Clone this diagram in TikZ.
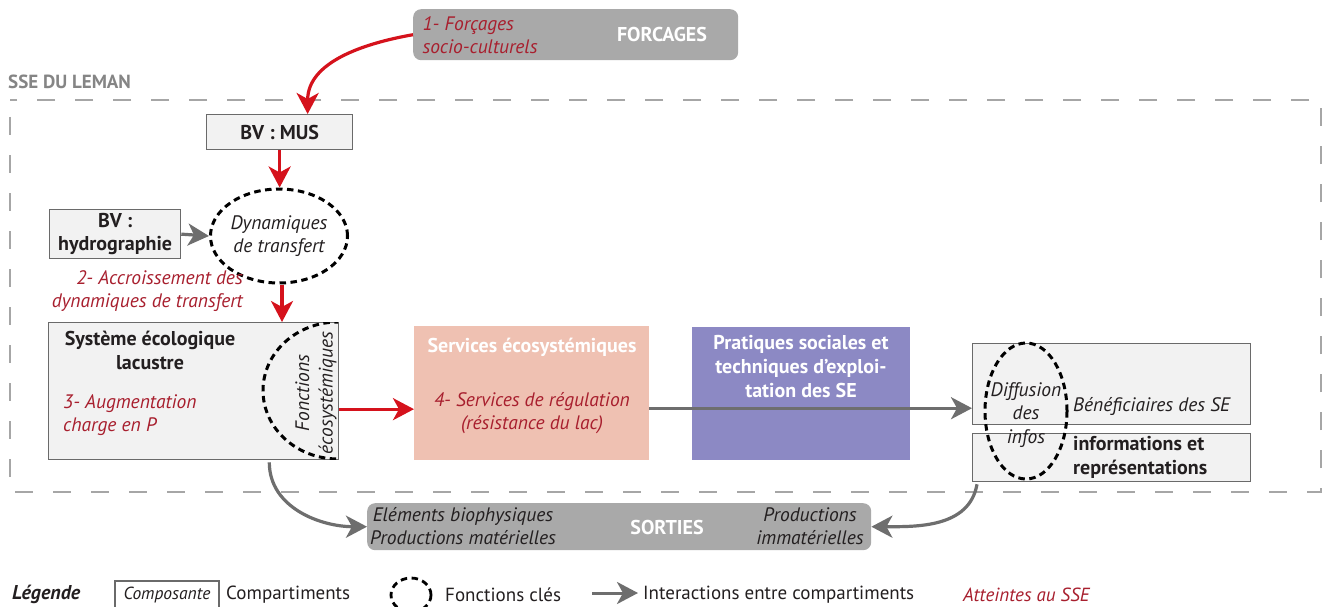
\documentclass[tikz,border=0pt]{standalone}
\usepackage{fontspec}
\setmainfont{PT Sans}
\usetikzlibrary{arrows.meta,shapes.geometric,calc}
\definecolor{redA}{HTML}{D5121C}
\definecolor{redT}{HTML}{A81F2E}
\definecolor{grayA}{HTML}{6E6E6E}
\definecolor{grayF}{HTML}{A6A6A6}
\definecolor{boxF}{HTML}{F2F2F2}
\definecolor{boxD}{HTML}{6A6A6A}
\definecolor{topF}{HTML}{A9A9A9}
\definecolor{servF}{HTML}{EFC1B2}
\definecolor{pratF}{HTML}{8C89C4}
\definecolor{txt}{HTML}{231F20}
\tikzset{
  box/.style={draw=boxD, fill=boxF, line width=1.3pt, inner sep=0pt, anchor=north west, align=center, text=txt, font=\fontsize{20}{23}\selectfont\bfseries},
  fbox/.style={fill=topF, rounded corners=8pt, inner sep=0pt, anchor=north west},
  colbox/.style={inner sep=0pt, anchor=north west},
  keyfn/.style={ellipse, draw=black, line width=3pt, dash pattern=on 6.5pt off 4.5pt, inner sep=0pt},
  redarr/.style={draw=redA, line width=3.2pt, -{Stealth[length=21pt,width=22pt,inset=6pt]}},
  grayarr/.style={draw=grayA, line width=3.2pt, -{Stealth[length=21pt,width=22pt,inset=6pt]}},
  redtxt/.style={text=redT, font=\fontsize{19.5}{23.5}\selectfont\itshape, inner sep=0pt},
  ittxt/.style={text=txt, font=\fontsize{19.5}{23.5}\selectfont\itshape, inner sep=0pt},
  bdtxt/.style={text=txt, font=\fontsize{20}{24}\selectfont\bfseries, inner sep=0pt},
  whtxt/.style={text=white, font=\fontsize{20}{24}\selectfont\bfseries, inner sep=0pt},
  legtxt/.style={text=txt, font=\fontsize{19}{22}\selectfont, inner sep=0pt, anchor=west},
}
\begin{document}
\begin{tikzpicture}[x=1pt,y=-1pt]
\useasboundingbox[fill=white] (0,0) rectangle (1324,607);

% frame
\draw[grayF, line width=1.6pt, dash pattern=on 18pt off 20pt, dash phase=-17pt] (10,100) rectangle (1321,492);
\node[anchor=west, inner sep=0pt, text=grayF!80!black, font=\fontsize{19}{22}\selectfont\bfseries] (sse) at (8,82) {SSE DU LEMAN};

% top box
\node[fbox, minimum width=325pt, minimum height=51pt] (forc) at (413,9) {};
\node[redtxt, align=left] (forcT) at (480,35) {1- Forçages\\socio-culturels};
\node[whtxt] (forcN) at (662,35) {FORCAGES};

% BV MUS
\node[box, minimum width=146pt, minimum height=35pt] (mus) at (206,114) {BV : MUS};
% hydro
\node[box, minimum width=131pt, minimum height=49pt] (hydro) at (49,209) {BV :\\hydrographie};
% dynamiques
\node[keyfn, minimum width=111pt, minimum height=94pt, align=center, font=\fontsize{19.5}{23.5}\selectfont\itshape, text=txt] (dyn) at (279,236) {Dynamiques\\de transfert};
\node[redtxt, anchor=north east, align=right] (acc) at (243,270) {2- Accroissement des\\dynamiques de transfert};

% eco
\node[box, minimum width=290pt, minimum height=137pt] (eco) at (48,322) {};
\node[bdtxt, align=center] (ecoT) at (150,350) {Système écologique\\lacustre};
\node[redtxt, anchor=north west, align=left] (aug) at (63,394) {3- Augmentation\\charge en P};
\begin{scope}
\clip (48,322) rectangle (338,459);
\draw[black, line width=3pt, dash pattern=on 6.5pt off 4.5pt] (338,390.5) ellipse [x radius=75pt, y radius=68.5pt];
\end{scope}
\node[ittxt, rotate=90, align=center] (fct) at (316,393) {Fonctions\\écosystémiques};

% services
\node[colbox, fill=servF, minimum width=235pt, minimum height=134pt] (serv) at (414,326) {};
\node[whtxt] (servT) at (532,347) {Services écosystémiques};
\node[redtxt, align=center] (servR) at (532,413) {4- Services de régulation\\(résistance du lac)};

% pratiques
\node[colbox, fill=pratF, minimum width=218pt, minimum height=133pt] (prat) at (692,327) {};
\node[whtxt, align=center] (pratT) at (801,367) {Pratiques sociales et\\techniques d’exploi-\\tation des SE};

% beneficiaires
\node[box, minimum width=278pt, minimum height=81pt] (benef) at (972,343) {};
\node[ittxt, anchor=west] (benT) at (1073,407) {Bénéficiaires des SE};
\node[box, minimum width=278pt, minimum height=48pt] (info) at (972,433) {};
\node[bdtxt, anchor=west, align=left] (infoT) at (1073,457) {informations et\\représentations};
\node[keyfn, minimum width=82pt, minimum height=136pt] (diff) at (1026,411) {};
\node[ittxt, align=center] (diffT) at (1026,415) {Diffusion\\des\\infos};

% sorties
\node[fbox, minimum width=504pt, minimum height=47pt] (sort) at (367,503) {};
\node[ittxt, align=center] (sortL) at (463,526) {Eléments biophysiques\\Productions matérielles};
\node[whtxt] (sortN) at (667,527) {SORTIES};
\node[ittxt, align=center] (sortR) at (810,526) {Productions\\immatérielles};

% connectors
\draw[redarr] (forc.west) to[out=190, in=90] ([xshift=28pt]mus.north);
\draw[redarr] (mus.south) -- (mus.south |- dyn.north);
\draw[grayarr] (hydro.east) -- (dyn.west);
\draw[redarr] ([xshift=3pt]dyn.south) -- ([xshift=3pt]dyn.south |- eco.north);
\coordinate (ry) at ([yshift=-18pt]eco.east);
\draw[redarr] (ry) -- (ry -| serv.west);
\coordinate (gy) at ([yshift=-15pt]serv.east);
\draw[grayarr] (gy) -- (gy -| benef.west);
\draw[grayarr] ([xshift=-70pt, yshift=-2pt]eco.south east) to[out=-90, in=180] (sort.west);
\draw[grayarr] ([xshift=5pt, yshift=-2pt]info.south west) to[out=-100, in=0] (sort.east);

% legend
\node[anchor=west, inner sep=0pt, text=txt, font=\fontsize{20}{22}\selectfont\bfseries\itshape] (leg) at (12,594) {Légende};
\node[draw=boxD, line width=1.2pt, fill=white, minimum width=104pt, minimum height=28pt, inner sep=0pt, text=txt, font=\fontsize{17.5}{20}\selectfont\itshape] (legbox) at (167,595) {Composante};
\node[legtxt] (legc) at (226,595) {Compartiments};
\node[keyfn, line width=2.8pt, minimum width=40pt, minimum height=34pt] (legf) at (411,595) {};
\node[legtxt] (legft) at (445,595) {Fonctions clés};
\coordinate (la) at (592,593);
\coordinate (lb) at (638,593);
\draw[grayarr, line width=3pt] (la) -- (lb);
\node[legtxt] (legi) at (643,595) {Interactions entre compartiments};
\node[legtxt, redtxt, anchor=west, font=\fontsize{19}{22}\selectfont\itshape] (lega) at (963,595) {Atteintes au SSE};
\end{tikzpicture}
\end{document}
